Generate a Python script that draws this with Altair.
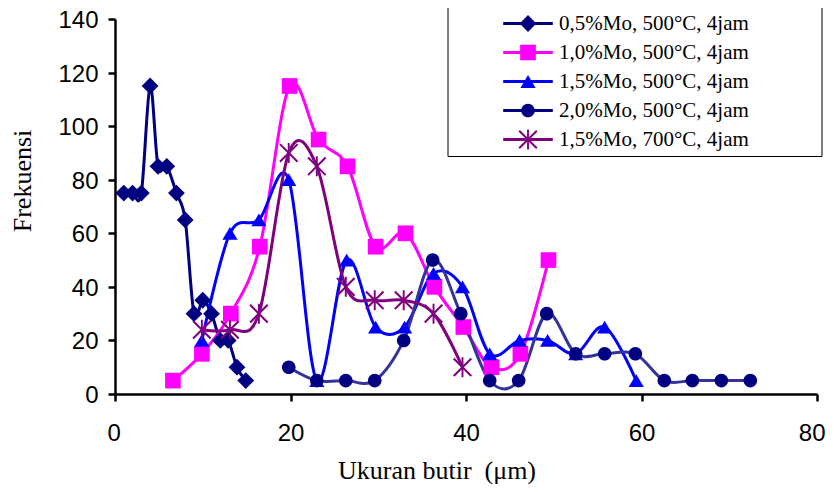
import altair as alt
import pandas as pd

series_names = [
    "0,5%Mo, 500°C, 4jam",
    "1,0%Mo, 500°C, 4jam",
    "1,5%Mo, 500°C, 4jam",
    "2,0%Mo, 500°C, 4jam",
    "1,5%Mo, 700°C, 4jam",
]

x_s1 = [1, 2, 3, 4, 4.9, 5.9, 7, 8, 9, 10, 11, 12, 12.9, 13.9, 14.9]
y_s1 = [75, 75, 75, 115, 85, 85, 75, 65, 30, 35, 30, 20, 20, 10, 5]

x_s2 = [6.6, 9.9, 13.2, 16.5, 19.9, 23.2, 26.5, 29.7, 33.1, 36.4, 39.7, 42.9, 46.2, 49.4]
y_s2 = [5, 15, 30, 55, 115, 95, 85, 55, 60, 40, 25, 10, 15, 50]

x_s3 = [9.9, 13.1, 16.4, 19.8, 23.0, 26.4, 29.7, 33.0, 36.3, 39.6, 42.7, 46.1, 49.3, 52.5, 55.8, 59.4]
y_s3 = [20, 60, 65, 80, 5, 50, 25, 25, 45, 40, 15, 20, 20, 15, 25, 5]

x_s4 = [19.8, 23.0, 26.3, 29.6, 32.9, 36.2, 39.4, 42.7, 46.0, 49.2, 52.5, 55.8, 59.3, 62.6, 65.8, 69.1, 72.4]
y_s4 = [10, 5, 5, 5, 20, 50, 30, 5, 5, 30, 15, 15, 15, 5, 5, 5, 5]

x_s5 = [9.9, 13.1, 16.4, 19.8, 23.0, 26.3, 29.6, 32.9, 36.3, 39.6]
y_s5 = [24, 24, 30, 90, 85, 40, 35, 35, 30, 10]

x_ticks = [0, 20, 40, 60, 80]
y_ticks = [0, 20, 40, 60, 80, 100, 120, 140]

line_colors = ["#000080", "#FF00FF", "#0000FF", "#333399", "#800080"]
marker_colors = ["#000080", "#FF00FF", "#0000FF", "#000080", "#800080"]

# marker outlines (unit square [-1,1] = sqrt(size) pixels)
DIAMOND = "M0,-1.05L1.05,0L0,1.05L-1.05,0Z"
SQUARE = "M-0.98,-0.98H0.98V0.98H-0.98Z"
TRIANGLE = "M0,-0.8L0.95,0.8L-0.95,0.8Z"
CIRCLE = "M0.85,0A0.85,0.85,0,1,1,-0.85,0A0.85,0.85,0,1,1,0.85,0Z"
ASTER = ("M-0.12,-1.25L0.12,-1.25L0.12,1.25L-0.12,1.25Z"
         "M-1.01,-1.19L1.19,1.01L1.01,1.19L-1.19,-1.01Z"
         "M1.01,-1.19L1.19,-1.01L-1.01,1.19L-1.19,1.01Z")
marker_shapes = [DIAMOND, SQUARE, TRIANGLE, CIRCLE, ASTER]


def legend_symbol(marker):
    # line segment through the marker, plus an invisible point that widens the frame
    return "M-3.1,-0.19L3.1,-0.19L3.1,0.19L-3.1,0.19Z" + marker + "M35.9,0"


legend_shapes = [legend_symbol(m) for m in marker_shapes]

rows = []
for name, xs, ys in zip(series_names, [x_s1, x_s2, x_s3, x_s4, x_s5], [y_s1, y_s2, y_s3, y_s4, y_s5]):
    for i, (a, b) in enumerate(zip(xs, ys)):
        rows.append({"series": name, "x": a, "y": b, "idx": i})
df = pd.DataFrame(rows)

x_axis = alt.Axis(
    values=x_ticks, grid=False, title="Ukuran butir\u00a0 (μm)",
    domainColor="black", domainWidth=2.5, tickColor="black", tickWidth=2.5, tickSize=7,
    labelFont="Liberation Sans", labelFontSize=24, labelColor="black", labelPadding=20,
    labelFlush=True, labelFlushOffset=8, labelOverlap=False,
    titleFont="Liberation Serif", titleFontSize=26, titleFontWeight="normal", titleColor="black",
    titleX=321.5, titleY=84, titleAlign="center", titleBaseline="alphabetic",
)
y_axis = alt.Axis(
    values=y_ticks, grid=False, title="Frekuensi",
    domainColor="black", domainWidth=2.5, tickColor="black", tickWidth=2.5, tickSize=7,
    labelFont="Liberation Sans", labelFontSize=24, labelColor="black", labelPadding=10,
    labelFlush=False, labelOverlap=False, labelOffset=1.5,
    titleFont="Liberation Serif", titleFontSize=26, titleFontWeight="normal", titleColor="black",
    titleX=-85, titleY=161.5, titleAngle=270, titleAlign="center", titleBaseline="alphabetic",
)

base = alt.Chart(df).encode(
    x=alt.X("x:Q", scale=alt.Scale(domain=[0, 80], nice=False, zero=False), axis=x_axis),
    y=alt.Y("y:Q", scale=alt.Scale(domain=[0, 140], nice=False), axis=y_axis),
)

lines = base.mark_line(interpolate="cardinal", strokeWidth=3).encode(
    stroke=alt.Stroke("series:N", scale=alt.Scale(domain=series_names, range=line_colors), legend=None),
    order="idx:Q",
)

points = base.mark_point(filled=True, size=256, opacity=1).encode(
    fill=alt.Fill("series:N", scale=alt.Scale(domain=series_names, range=marker_colors), legend=None),
    shape=alt.Shape("series:N", scale=alt.Scale(domain=series_names, range=marker_shapes), legend=None),
)

leg = alt.Legend(
    orient="none", legendX=332.5, legendY=-12, title=None,
    padding=6, strokeColor="black", fillColor="white",
    labelFont="Liberation Serif", labelFontSize=21, labelColor="black", labelLimit=500,
    symbolSize=256, symbolStrokeWidth=0, symbolOpacity=1, symbolOffset=64,
    labelOffset=20.5, rowPadding=7,
)

legend_layer = base.mark_point(filled=True, size=256, opacity=0).encode(
    fill=alt.Fill("series:N", scale=alt.Scale(domain=series_names, range=marker_colors), legend=leg),
    shape=alt.Shape("series:N", scale=alt.Scale(domain=series_names, range=legend_shapes), legend=leg),
)

chart = (
    alt.layer(lines, points, legend_layer)
    .resolve_scale(fill="independent", shape="independent")
    .properties(
        width=702, height=375,
        autosize=alt.AutoSizeParams(type="none"),
        padding={"left": 107, "top": 11, "right": 9, "bottom": 90},
        background="white",
    )
    .configure_view(stroke=None)
)

chart.save("out.html", embed_options={"renderer": "svg", "actions": False})
